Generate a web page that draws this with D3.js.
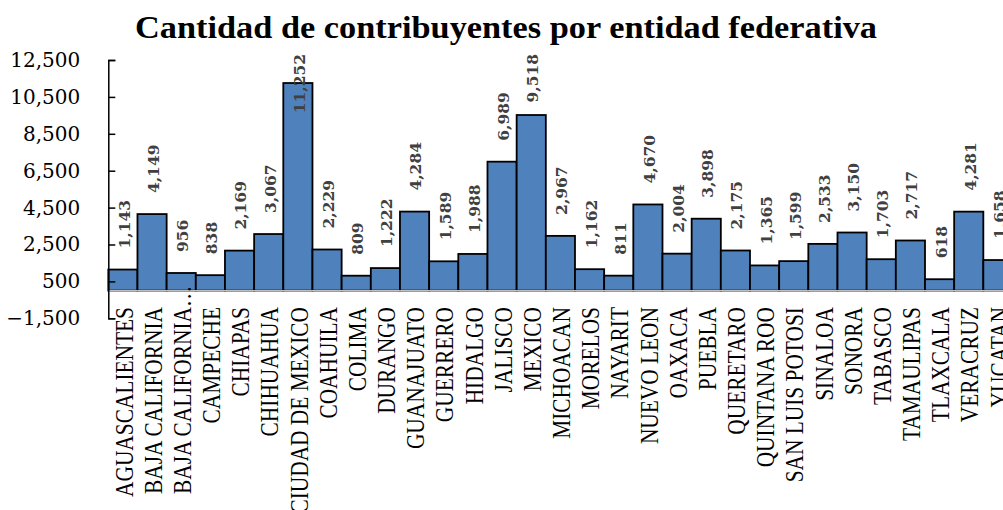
<!DOCTYPE html>
<html><head><meta charset="utf-8">
<script src="https://cdn.jsdelivr.net/npm/d3@7"></script>
<style>body{margin:0;background:#fff}svg{display:block}</style>
</head><body>
<svg id="c" width="1003" height="510"></svg>
<script>
const title = "Cantidad de contribuyentes por entidad federativa";
const categories = ["AGUASCALIENTES","BAJA CALIFORNIA","BAJA CALIFORNIA…","CAMPECHE","CHIAPAS","CHIHUAHUA","CIUDAD DE MEXICO","COAHUILA","COLIMA","DURANGO","GUANAJUATO","GUERRERO","HIDALGO","JALISCO","MEXICO","MICHOACAN","MORELOS","NAYARIT","NUEVO LEON","OAXACA","PUEBLA","QUERETARO","QUINTANA ROO","SAN LUIS POTOSI","SINALOA","SONORA","TABASCO","TAMAULIPAS","TLAXCALA","VERACRUZ","YUCATAN"];
const values = [1143,4149,956,838,2169,3067,11252,2229,809,1222,4284,1589,1988,6989,9518,2967,1162,811,4670,2004,3898,2175,1365,1599,2533,3150,1703,2717,618,4281,1658];
const yTicks = [-1500,500,2500,4500,6500,8500,10500,12500];

const svg = d3.select("#c");
const x = d3.scaleBand().domain(categories).range([108.3, 1012.5]).padding(0);
const y = d3.scaleLinear().domain([-1500, 12500]).range([318.3, 60]);
const fmt = d3.format(",");
const y0 = y(0);

// title
svg.append("text").attr("x", 506).attr("y", 38).attr("text-anchor", "middle")
  .attr("font-family", "Liberation Serif").attr("font-weight", "bold").attr("font-size", 32)
  .attr("fill", "#000").attr("textLength", 742).attr("lengthAdjust", "spacingAndGlyphs")
  .text(title);

// bars
svg.append("g").selectAll("rect").data(values).join("rect")
  .attr("x", (d, i) => x(categories[i]))
  .attr("y", d => y(d))
  .attr("width", x.bandwidth())
  .attr("height", d => y0 - y(d))
  .attr("fill", "#4F81BD").attr("stroke", "#000").attr("stroke-width", 1.8);

// x axis line (category axis at 0)
svg.append("line").attr("x1", 108.3).attr("x2", 1012.5).attr("y1", y0).attr("y2", y0)
  .attr("stroke", "#bfbfbf").attr("stroke-width", 1.5);

// y axis line & ticks
const ya = svg.append("g").attr("transform", "translate(108.3,0)")
  .call(d3.axisRight(y).tickValues(yTicks).tickSize(7).tickSizeOuter(7).tickFormat(""));
ya.selectAll("path,line").attr("stroke", "#000").attr("stroke-width", 1.5);

// y tick labels
const yl = svg.append("g").attr("transform", "translate(108.3,0)")
  .call(d3.axisLeft(y).tickValues(yTicks).tickSize(0).tickPadding(28).tickFormat(fmt));
yl.select(".domain").remove();
yl.selectAll("text").attr("font-family", "DejaVu Serif").attr("font-size", 20).attr("fill", "#000");

// category labels
const labScale = 0.855;
const xa = svg.append("g").attr("transform", `translate(0,${y0})`)
  .call(d3.axisBottom(x).tickSize(0));
xa.select(".domain").remove();
xa.selectAll("text")
  .attr("font-family", "Liberation Serif").attr("font-size", 25).attr("fill", "#000")
  .attr("text-anchor", "end")
  .attr("transform", `translate(1,0) rotate(-90) scale(${labScale},1)`)
  .attr("y", 0).attr("dy", "0.35em")
  .each(function(d) {
    let off = 16.4 / labScale;
    if (d.endsWith("…")) {
      const n = this.getNumberOfChars();
      off -= this.getExtentOfChar(n - 1).width;
    }
    d3.select(this).attr("x", -off);
  });

// data labels
const dl = svg.append("g");
values.forEach((v, i) => {
  const cx = x(categories[i]) + x.bandwidth() / 2 + 1.5;
  const top = y(v);
  const g = dl.append("g");
  const tx = g.append("text").attr("font-family", "DejaVu Serif").attr("font-weight", "bold")
    .attr("font-size", 15.5).attr("fill", "#404040").attr("dy", "0.35em").text(fmt(v));
  const len = tx.node().getComputedTextLength();
  let start = top - 21;
  if (start - len < 54) start = 54 + len;
  g.attr("transform", `translate(${cx},${start}) rotate(-90)`);
});
</script>
</body></html>
